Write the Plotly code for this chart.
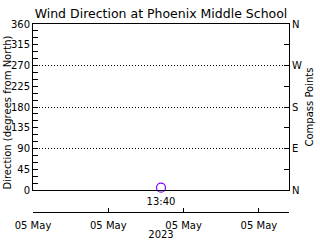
import plotly.graph_objects as go

# ---- data ----
times = ["2023-05-05 13:40"]
directions = [5]
time_labels = ["13:40"]

x_range = ["2023-05-05 12:49", "2023-05-05 14:31"]
date_ticks = ["2023-05-05 12:49", "2023-05-05 13:19", "2023-05-05 13:49", "2023-05-05 14:19"]
date_tick_labels = ["05 May", "05 May", "05 May", "05 May"]
year_label = "2023"

deg_ticks = [0, 45, 90, 135, 180, 225, 270, 315, 360]
compass_vals = [0, 90, 180, 270, 360]
compass_labels = ["N", "E", "S", "W", "N"]

title_text = "Wind Direction at Phoenix Middle School"
left_title = "Direction (degrees from North)"
right_title = "Compass Points"

FONT = "DejaVu Sans"
purple = "#8000ff"

fig = go.Figure()
fig.add_trace(go.Scatter(
    x=times, y=directions, mode="markers",
    marker=dict(symbol="circle-open", size=9, color=purple, line=dict(width=1.2, color=purple)),
    xaxis="x", yaxis="y", showlegend=False, cliponaxis=False,
))
fig.add_trace(go.Scatter(
    x=times, y=directions, mode="markers", marker=dict(opacity=0),
    xaxis="x2", yaxis="y2", showlegend=False, hoverinfo="skip",
))

fig.update_layout(
    width=320, height=240,
    margin=dict(l=33, r=31, t=24, b=28),
    paper_bgcolor="white", plot_bgcolor="white",
    font=dict(family=FONT, size=10, color="black"),
    title=dict(text=title_text, x=0.5, xref="paper", xanchor="center",
               y=1 - 14 / 240, yref="container", yanchor="middle",
               font=dict(family=FONT, size=12.5, color="black")),
    xaxis=dict(
        type="date", range=x_range, domain=[0, 1], anchor="y",
        tickvals=times, ticktext=time_labels, ticks="",
        ticklabelstandoff=2,
        showline=True, linecolor="black", linewidth=1, mirror=True,
        showgrid=False, zeroline=False, fixedrange=True,
        tickfont=dict(family=FONT, size=10),
    ),
    xaxis2=dict(
        type="date", range=x_range, overlaying="x", anchor="free", position=0,
        side="bottom", tickvals=date_ticks, ticktext=date_tick_labels,
        ticks="inside", ticklen=4, tickcolor="black",
        ticklabelstandoff=4,
        showline=True, linecolor="black", linewidth=1,
        showgrid=False, zeroline=False,
        tickfont=dict(family=FONT, size=10),
        title=dict(text=year_label, standoff=0, font=dict(family=FONT, size=10)),
        automargin=False,
    ),
    yaxis=dict(
        range=[0, 360], domain=[22 / 188, 1], anchor="x",
        tickvals=deg_ticks, ticks="inside", ticklen=5, tickcolor="black",
        minor=dict(dtick=15, tick0=0, ticks="inside", ticklen=5, tickcolor="black", showgrid=False),
        showline=True, linecolor="black", linewidth=1,
        showgrid=False, zeroline=False,
        tickfont=dict(family=FONT, size=10),
        automargin=False,
    ),
    yaxis2=dict(
        range=[0, 360], overlaying="y", anchor="x", side="right",
        tickvals=compass_vals, ticktext=compass_labels,
        ticks="inside", ticklen=5, tickcolor="black",
        minor=dict(dtick=45, tick0=0, ticks="inside", ticklen=5, tickcolor="black", showgrid=False),
        showline=True, linecolor="black", linewidth=1,
        showgrid=True, gridcolor="black", griddash="1px,2px", gridwidth=1,
        zeroline=False,
        tickfont=dict(family=FONT, size=10),
        title=dict(text=right_title, standoff=4, font=dict(family=FONT, size=10)),
        automargin=False,
    ),
    annotations=[
        dict(text=left_title, textangle=-90, xref="paper", yref="paper",
             x=0, y=0.5 + 11 / 188 / 2, xanchor="center", yanchor="middle",
             xshift=-26, showarrow=False, font=dict(family=FONT, size=10, color="black")),
    ],
)

fig.write_html("out.html")
